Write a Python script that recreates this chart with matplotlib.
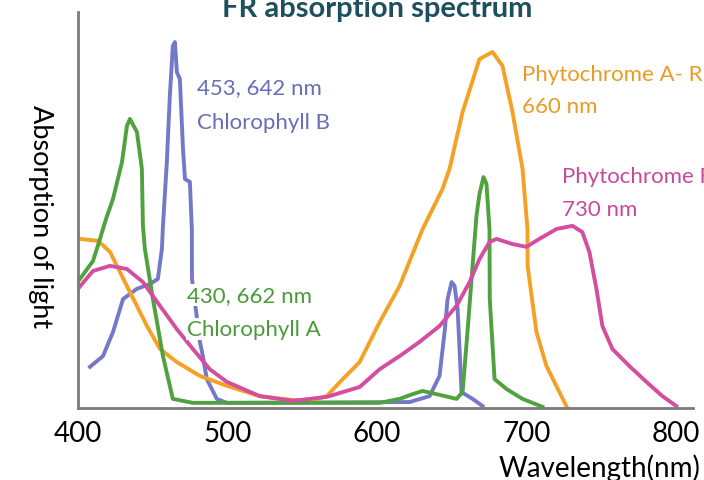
import matplotlib
matplotlib.use('Agg')
import matplotlib.pyplot as plt

plt.rcParams['font.family'] = ['Lato', 'DejaVu Sans']

# wavelength (nm) / relative absorption
phyA_wl = [401.3, 413.4, 421.4, 432.7, 446.1, 454.8, 466.1, 481.5, 499.5, 521.5, 543.6, 556.9,
           566.3, 577.0, 588.3, 601.7, 615.0, 630.4, 643.7, 648.4, 657.1, 668.4, 677.1, 683.8,
           690.5, 697.2, 700.5, 700.6, 706.5, 713.2, 726.5]
phyA_abs = [0.427, 0.422, 0.394, 0.308, 0.207, 0.149, 0.116, 0.081, 0.056, 0.030, 0.020, 0.020,
            0.030, 0.073, 0.116, 0.217, 0.308, 0.452, 0.553, 0.604, 0.747, 0.881, 0.899, 0.864,
            0.747, 0.604, 0.452, 0.359, 0.192, 0.106, 0.005]

chlA_wl = [401.3, 410.0, 414.7, 418.7, 423.4, 429.4, 432.7, 434.7, 439.4, 442.7, 443.4, 444.7,
           450.1, 456.8, 463.4, 476.8, 601.7, 615.0, 623.7, 630.4, 639.7, 653.1, 657.1, 660.4,
           663.8, 666.4, 668.4, 671.1, 673.1, 675.1, 675.3, 678.5, 686.5, 697.2, 710.5]
chlA_abs = [0.326, 0.371, 0.427, 0.477, 0.528, 0.621, 0.712, 0.730, 0.697, 0.604, 0.460, 0.402,
            0.275, 0.131, 0.023, 0.013, 0.013, 0.023, 0.035, 0.043, 0.035, 0.023, 0.040, 0.192,
            0.359, 0.485, 0.540, 0.583, 0.566, 0.452, 0.275, 0.073, 0.048, 0.023, 0.003]

chlB_wl = [408.0, 416.7, 423.4, 430.1, 439.4, 448.1, 453.4, 456.1, 456.8, 459.4, 461.4, 463.4,
           464.8, 466.1, 468.1, 470.1, 471.5, 474.8, 476.1, 476.2, 481.5, 483.5, 486.1, 492.8,
           499.5, 621.7, 635.1, 641.7, 645.1, 647.1, 649.8, 651.8, 653.8, 655.1, 656.4, 663.8, 670.5]
chlB_abs = [0.104, 0.131, 0.192, 0.275, 0.301, 0.313, 0.326, 0.402, 0.460, 0.621, 0.788, 0.914,
            0.924, 0.848, 0.831, 0.662, 0.578, 0.571, 0.452, 0.326, 0.167, 0.131, 0.073, 0.023,
            0.013, 0.015, 0.030, 0.081, 0.192, 0.275, 0.318, 0.308, 0.250, 0.149, 0.040, 0.023, 0.005]

phyF_wl = [400.0, 410.0, 421.4, 432.7, 443.4, 454.8, 466.1, 476.8, 488.1, 499.5, 521.5, 543.6,
           566.3, 588.3, 601.7, 615.0, 628.4, 641.7, 653.1, 661.8, 668.4, 675.1, 679.8, 690.5,
           699.8, 708.5, 719.9, 730.6, 737.2, 741.9, 746.6, 750.6, 757.3, 768.6, 780.0, 790.7, 800.0]
phyF_abs = [0.301, 0.346, 0.359, 0.351, 0.318, 0.258, 0.199, 0.149, 0.098, 0.066, 0.030, 0.018,
            0.028, 0.053, 0.098, 0.131, 0.167, 0.207, 0.258, 0.318, 0.376, 0.419, 0.427, 0.414,
            0.407, 0.427, 0.452, 0.460, 0.444, 0.394, 0.301, 0.207, 0.149, 0.106, 0.066, 0.030, 0.005]

xticks = [400, 500, 600, 700, 800]

fig = plt.figure(figsize=(7.04, 4.81), dpi=100)
ax = fig.add_axes([0.1108, 0.1497, 0.8732, 0.8233])

lw = 2.8
ax.plot(chlB_wl, chlB_abs, color='#7478c8', lw=lw, solid_joinstyle='round')
ax.plot(phyA_wl, phyA_abs, color='#f5a126', lw=lw, solid_joinstyle='round')
ax.plot(chlA_wl, chlA_abs, color='#4fa23e', lw=lw, solid_joinstyle='round')
ax.plot(phyF_wl, phyF_abs, color='#d34ea0', lw=lw, solid_joinstyle='round')

ax.set_xlim(400, 811)
ax.set_ylim(0, 1)
ax.set_xticks(xticks)
ax.set_xticklabels([str(t) for t in xticks], fontsize=20)
ax.tick_params(axis='x', length=0, pad=9)
ax.set_yticks([])
for s in ['top', 'right']:
    ax.spines[s].set_visible(False)
for s in ['left', 'bottom']:
    ax.spines[s].set_color('#7a7a7a')
    ax.spines[s].set_linewidth(2)

fs = 16
white = dict(facecolor='white', edgecolor='none', pad=1)
fig.text(197 / 704, 1 - 88 / 481, '453, 642 nm', color='#6a6cb8', fontsize=fs, va='center')
fig.text(197 / 704, 1 - 123 / 481, 'Chlorophyll B', color='#6a6cb8', fontsize=fs, va='center')
fig.text(187 / 704, 1 - 296 / 481, '430, 662 nm', color='#4a9a3a', fontsize=fs, va='center', bbox=white)
fig.text(187 / 704, 1 - 330 / 481, 'Chlorophyll A', color='#4a9a3a', fontsize=fs, va='center', bbox=white)
fig.text(522 / 704, 1 - 75 / 481, 'Phytochrome A- R', color='#ec9a25', fontsize=fs, va='center')
fig.text(522 / 704, 1 - 107 / 481, '660 nm', color='#ec9a25', fontsize=fs, va='center')
fig.text(562 / 704, 1 - 177 / 481, 'Phytochrome F', color='#c8489a', fontsize=fs, va='center')
fig.text(562 / 704, 1 - 210 / 481, '730 nm', color='#c8489a', fontsize=fs, va='center')

fig.text(377 / 704, 1 - 17 / 481, 'FR absorption spectrum', color='#1d4f5e', fontsize=21,
         fontweight='bold', ha='center', va='baseline')
fig.text(700 / 704, 1 - 468 / 481, 'Wavelength(nm)', fontsize=20, ha='right', va='center')
fig.text(40 / 704, 1 - 217 / 481, 'Absorption of light', fontsize=19.5, rotation=270,
         ha='center', va='center')

fig.savefig('out.png', dpi=100)
